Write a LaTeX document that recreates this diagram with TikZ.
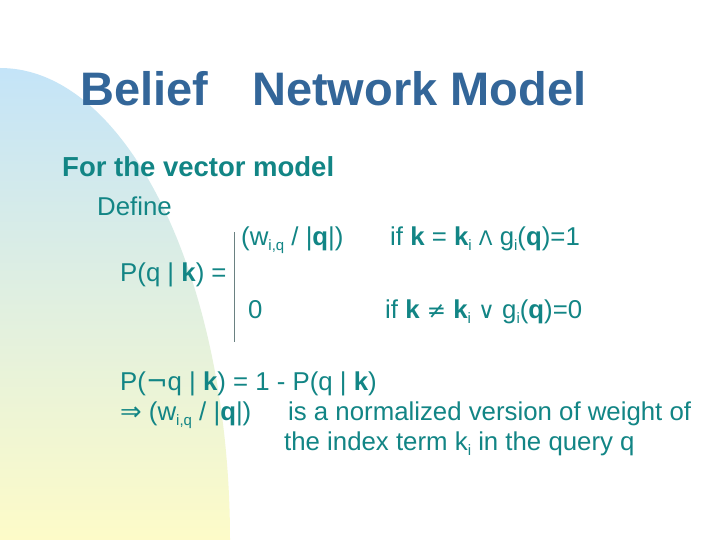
\documentclass[tikz,border=0pt]{standalone}
\usepackage{fontspec}
\setmainfont{Liberation Sans}
\newfontfamily\symf{DejaVu Sans}
\definecolor{tealtxt}{HTML}{128585}
\definecolor{titleblue}{HTML}{336699}
\definecolor{blobtop}{HTML}{C4E4F8}
\definecolor{blobbot}{HTML}{FDFBC8}
\newcommand{\sbs}[1]{\raisebox{-0.4ex}{\fontsize{15}{16}\selectfont #1}}
\begin{document}
\begin{tikzpicture}[x=1pt,y=-1pt,
  txt/.style={anchor=base west,inner sep=0pt,text=tealtxt,font=\fontsize{25.8}{28}\selectfont},
  btxt/.style={txt,font=\fontsize{27.5}{30}\selectfont\bfseries},
  ttl/.style={anchor=base west,inner sep=0pt,text=titleblue,font=\fontsize{47}{52}\selectfont\bfseries}]
\useasboundingbox[fill=white] (0,0) rectangle (720,540);
\shade[top color=blobtop,bottom color=blobbot] (0,540) -- (0,68) arc[start angle=90,end angle=0,x radius=230,y radius=-472] -- cycle;
\node[ttl] (t1) at (80,106) {Belief};
\node[ttl] (t2) at (252,106) {Network Model};
\node[btxt] (h) at (62,177) {For the vector model};
\node[txt] (d) at (97,215) {Define};
\node[txt] (c1) at (241,245) {(w\sbs{i,q} / |\textbf{q}|)};
\node[txt] (e1) at (390,245) {if \textbf{k} = \textbf{k}\sbs{i} {\symf\fontsize{20}{22}\selectfont Λ} g\sbs{i}(\textbf{q})=1};
\node[txt] (p) at (120,281) {P(q | \textbf{k}) =};
\node[txt] (c2) at (248,318) {0};
\node[txt] (e2) at (385,318) {if \textbf{k} {\symf\fontsize{23}{24}\selectfont ≠} \textbf{k}\sbs{i} {\symf\fontsize{23}{24}\selectfont ∨} g\sbs{i}(\textbf{q})=0};
\coordinate (b1) at (234,232);
\coordinate (b2) at (234,342);
\draw[gray!80!tealtxt,line width=0.6pt] (b1) -- (b2);
\node[txt] (n) at (120,390) {P({\symf ¬}q | \textbf{k}) = 1 - P(q | \textbf{k})};
\node[txt] (r1) at (120,420) {{\symf ⇒} (w\sbs{i,q} / |\textbf{q}|)};
\node[txt] (r2) at (288,420) {is a normalized version of weight of};
\node[txt] (r3) at (284,450) {the index term k\sbs{i} in the query q};
\end{tikzpicture}
\end{document}
